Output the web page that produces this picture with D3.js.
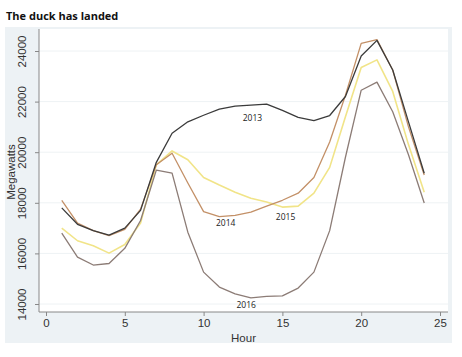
<!DOCTYPE html>
<html><head><meta charset="utf-8">
<script src="https://cdn.jsdelivr.net/npm/d3@7"></script>
<style>body{margin:0;background:#fff}svg{display:block}</style>
</head><body><svg id="c" width="462" height="357"></svg>
<script>
const hours = d3.range(1, 25);
const s2013 = [17800,17150,16900,16720,17000,17700,19600,20750,21200,21460,21700,21820,21860,21900,21650,21380,21250,21450,22200,23800,24420,23250,21200,19170];
const s2014 = [18100,17200,16900,16700,16950,17750,19500,19960,18780,17650,17450,17500,17630,17870,18100,18380,19000,20400,22250,24300,24450,23250,21000,19100];
const s2015 = [17000,16500,16300,16010,16350,17200,19500,20050,19700,19000,18700,18420,18180,18030,17830,17870,18380,19400,21400,23350,23650,22400,20300,18420];
const s2016 = [16800,15850,15540,15600,16200,17300,19290,19170,16840,15260,14670,14400,14240,14300,14320,14630,15260,16900,19800,22450,22770,21600,19900,17990];
const seriesNames = ["2013","2014","2015","2016"];
const seriesValues = [s2013, s2014, s2015, s2016];
const xTicks = [0,5,10,15,20,25];
const yTicks = [14000,16000,18000,20000,22000,24000];
const colors = ["#3b3b3b","#c39067","#f1e488","#8c7c76"];
const labelPos = [[13.1,21250],[11.4,17100],[15.2,17320],[12.7,13850]];

const svg = d3.select("#c");
svg.append("rect").attr("x",5).attr("y",27).attr("width",447).attr("height",316).attr("fill","#edf2f5");
svg.append("rect").attr("x",39).attr("y",29).attr("width",409).attr("height",283).attr("fill","#ffffff");

const x = d3.scaleLinear().domain([0,25]).range([46,440]);
const y = d3.scaleLinear().domain([14000,24000]).range([304,51]);

svg.append("g").selectAll("line").data(yTicks).join("line")
  .attr("x1",39).attr("x2",448).attr("y1",d=>y(d)).attr("y2",d=>y(d))
  .attr("stroke","#eef2f4").attr("stroke-width",1);

const font = "'Liberation Sans', Arial, sans-serif";
const yAxis = svg.append("g").attr("transform","translate(39,0)")
  .call(d3.axisLeft(y).tickValues(yTicks).tickSize(4).tickFormat(d3.format("d")));
yAxis.select(".domain").attr("d","M0,29V312").attr("stroke","#888");
yAxis.selectAll(".tick line").attr("stroke","#888");
yAxis.selectAll(".tick text").attr("transform","rotate(-90)").attr("x",0).attr("y",-13)
  .attr("dy","0").attr("text-anchor","middle").attr("font-size",11.5).attr("font-family",font).attr("fill","#333");

const xAxis = svg.append("g").attr("transform","translate(0,312)")
  .call(d3.axisBottom(x).tickValues(xTicks).tickSize(4));
xAxis.select(".domain").attr("d","M39,0H448").attr("stroke","#888");
xAxis.selectAll(".tick line").attr("stroke","#888");
xAxis.selectAll(".tick text").attr("font-size",11.5).attr("font-family",font).attr("fill","#333").attr("y",7);

const line = d3.line().x((d,i)=>x(hours[i])).y(d=>y(d));
[2,3,1,0].forEach(k=>{
  svg.append("path").datum(seriesValues[k]).attr("d",line).attr("fill","none")
    .attr("stroke",colors[k]).attr("stroke-width",k===2?1.6:1.3).attr("stroke-linejoin","round");
});

svg.append("g").selectAll("text").data(seriesNames).join("text")
  .attr("x",(d,i)=>x(labelPos[i][0])).attr("y",(d,i)=>y(labelPos[i][1]))
  .attr("text-anchor","middle").attr("font-size",8.5).attr("font-family","'Open Sans', sans-serif").attr("fill","#222")
  .text(d=>d);

svg.append("text").attr("x",243.5).attr("y",342).attr("text-anchor","middle")
  .attr("font-size",11.5).attr("font-family",font).attr("fill","#333").text("Hour");
svg.append("text").attr("transform","translate(15,172) rotate(-90)").attr("text-anchor","middle")
  .attr("font-size",11.5).attr("font-family",font).attr("fill","#333").text("Megawatts");

svg.append("text").attr("x",6).attr("y",20).attr("font-size",11).attr("font-weight","bold")
  .attr("font-family","'Open Sans', sans-serif").attr("fill","#111").text("The duck has landed");
</script></body></html>
